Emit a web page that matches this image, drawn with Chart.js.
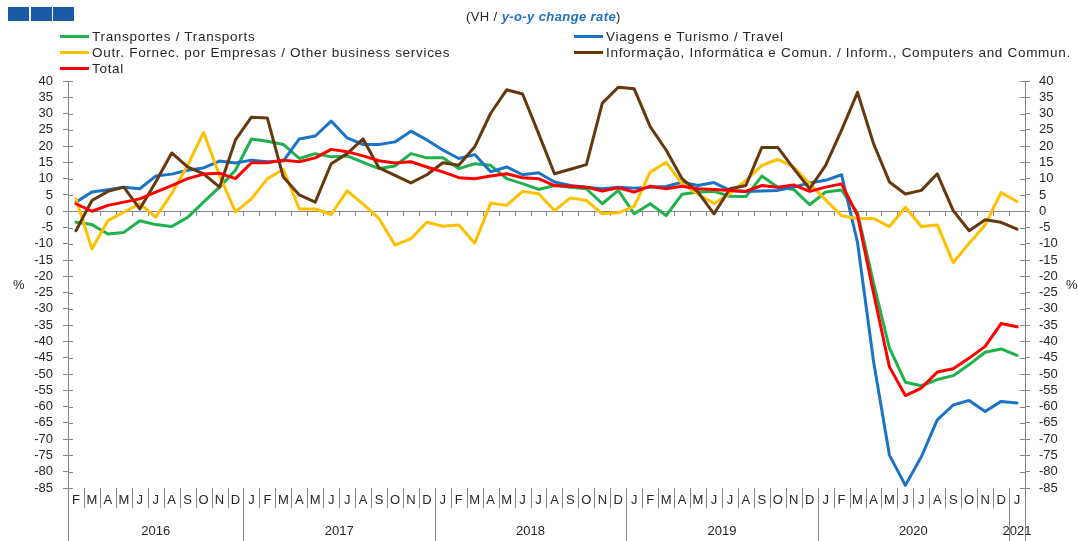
<!DOCTYPE html>
<html>
<head>
<meta charset="utf-8">
<script src="https://cdn.jsdelivr.net/npm/chart.js@4.4.0/dist/chart.umd.min.js"></script>
<style>
  body { margin: 0; background: #fff; font-family: "Liberation Sans", Arial, sans-serif; }
  #wrap { position: relative; width: 1078px; height: 541px; overflow: hidden; }
  #chart { position: absolute; left: 0; top: 0; }
  .sq { position: absolute; top: 7px; width: 21px; height: 14px; background: #1a5aa6; }
  #title { position: absolute; left: 466px; top: 9px; font-size: 13px; letter-spacing: 0.4px; color: #262626; white-space: nowrap; }
  #title i { color: #1f6fc5; font-weight: bold; }
  .leg { position: absolute; font-size: 13.5px; letter-spacing: 0.7px; color: #262626; white-space: nowrap; line-height: 16px; }
  .leg span { display: inline-block; width: 29px; height: 3px; vertical-align: middle; margin-right: 3px; position: relative; top: -1px; }
  .pct { position: absolute; top: 277px; font-size: 13px; color: #262626; }
</style>
</head>
<body>
<div id="wrap">
  <canvas id="chart" width="1078" height="541"></canvas>
  <div class="sq" style="left:8px"></div>
  <div class="sq" style="left:31px"></div>
  <div class="sq" style="left:53px"></div>
  <div id="title">(VH / <i>y-o-y change rate</i>)</div>
  <div id="legend"></div>
  <div class="pct" style="left:13px">%</div>
  <div class="pct" style="left:1066px">%</div>
</div>
<script>
// ---- data (Feb 2016 .. Jan 2021) ----
const months = ['F','M','A','M','J','J','A','S','O','N','D',
  'J','F','M','A','M','J','J','A','S','O','N','D',
  'J','F','M','A','M','J','J','A','S','O','N','D',
  'J','F','M','A','M','J','J','A','S','O','N','D',
  'J','F','M','A','M','J','J','A','S','O','N','D',
  'J'];
const years = ['2016', '2017', '2018', '2019', '2020', '2021'];
const yearStart = [0, 11, 23, 35, 47, 59];

const transportes = [-3.4, -4.1, -7, -6.5, -2.9, -4.1, -4.7, -1.9, 2.8, 7.4, 12.6,
  22.2, 21.5, 20.5, 16.2, 17.7, 16.7, 17, 15, 13.1, 13.9, 17.7, 16.4,
  16.4, 13.1, 14.6, 14.1, 10, 8.5, 6.7, 7.9, 7.4, 6.9, 2.3, 6.4,
  -0.8, 2.3, -1.3, 5.2, 5.9, 6.1, 4.6, 4.5, 10.8, 7.4, 6.7, 2,
  5.9, 6.5, -0.5, -22, -42, -52.5, -53.6, -51.7, -50.5, -47.1, -43.3, -42.3,
  -44.3];
const viagens = [2.8, 5.9, 6.6, 7.4, 6.9, 10.8, 11.4, 12.6, 13.3, 15.4, 14.8,
  15.7, 15.2, 15.4, 22.2, 23.1, 27.7, 22.5, 20.5, 20.5, 21.3, 24.6, 21.9,
  18.8, 16.2, 17.4, 12.1, 13.6, 11.2, 11.8, 9, 7.9, 7.4, 6.9, 7.4,
  7.1, 7.4, 7.6, 8.9, 7.9, 8.8, 6.4, 6.1, 6.2, 6.4, 7.4, 8.7,
  9.5, 11.2, -9.6, -46, -74.9, -84.2, -75.4, -64.1, -59.5, -58.1, -61.5, -58.4,
  -58.9];
const outrServicos = [3.8, -11.6, -2.9, -0.3, 2.3, -1.8, 5.4, 14.1, 24.2, 11, -0.2,
  3.8, 10, 12.9, 0.7, 0.7, -1, 6.3, 2.2, -2.2, -10.4, -8.4, -3.4,
  -4.6, -4.2, -9.8, 2.5, 1.8, 6.1, 5.4, 0.2, 4.1, 3.3, -0.8, -0.5,
  1.5, 12, 15, 8.5, 5.2, 2.4, 5.4, 9.5, 14.1, 15.9, 13.6, 8.5,
  3.5, -1.4, -2.2, -2.2, -4.7, 1.2, -4.7, -4.2, -15.8, -9.8, -4.2, 5.7,
  3];
const informacao = [-6, 3.3, 6.1, 7.4, 0.7, 9, 17.9, 13.6, 11.5, 7.4, 21.9,
  28.9, 28.6, 10.5, 5, 2.8, 14.6, 17.7, 22.2, 13.3, 11, 8.7, 11.2,
  14.9, 14.1, 19.8, 30.1, 37.3, 36, 23.9, 11.5, 12.9, 14.3, 33.2, 38.1,
  37.6, 26, 18.8, 10, 5.9, -0.8, 6.9, 7.9, 19.6, 19.6, 13.1, 6.9,
  14.1, 24.9, 36.5, 20.8, 9, 5.3, 6.4, 11.5, 0.2, -6, -2.6, -3.4,
  -5.5];
const total = [2.3, 0, 1.8, 2.8, 3.8, 5.9, 7.9, 10, 11.4, 11.7, 10,
  14.9, 14.9, 15.7, 15.2, 16.4, 19, 18.3, 17, 15.5, 14.8, 15.2, 13.6,
  12.1, 10.3, 10, 10.8, 11.5, 10.3, 10, 7.9, 7.7, 7.4, 6.2, 7.2,
  5.9, 7.7, 6.9, 7.7, 6.9, 6.7, 6.4, 6.1, 7.9, 7.4, 8.1, 6.1,
  7.4, 8.4, -1.3, -25, -47.8, -56.6, -54.3, -49.4, -48.4, -45.1, -41.5, -34.5,
  -35.5];

const series = [
  { label: 'Transportes / Transports', data: transportes, color: '#1fb14c', order: 4, lx: 60, ly: 29 },
  { label: 'Viagens e Turismo / Travel', data: viagens, color: '#1a73c6', order: 3, lx: 574, ly: 29 },
  { label: 'Outr. Fornec. por Empresas / Other business services', data: outrServicos, color: '#ffc000', order: 2, lx: 60, ly: 45 },
  { label: 'Informação, Informática e Comun. / Inform., Computers and Commun.', data: informacao, color: '#66380e', order: 1, lx: 574, ly: 45 },
  { label: 'Total', data: total, color: '#ff0000', order: 0, lx: 60, ly: 61 }
];

// legend (html, two columns like the original)
const legendBox = document.getElementById('legend');
series.forEach(s => {
  const d = document.createElement('div');
  d.className = 'leg';
  d.style.left = s.lx + 'px';
  d.style.top = s.ly + 'px';
  d.innerHTML = '<span style="background:' + s.color + '"></span>' + s.label;
  legendBox.appendChild(d);
});

const TXT = '#262626';
const AXIS = '#868686';
const FONT = "'Liberation Sans', Arial, sans-serif";

// axis decorations: zero line, month/year labels under the plot
const axisDecor = {
  id: 'axisDecor',
  beforeDatasetsDraw(chart) {
    const { ctx, chartArea: a, scales: { x, y } } = chart;
    const y0 = y.getPixelForValue(0);
    const step = (a.right - a.left) / months.length;
    ctx.save();
    ctx.strokeStyle = AXIS;
    ctx.lineWidth = 1;
    ctx.beginPath();
    ctx.moveTo(a.left, Math.round(y0) + 0.5);
    ctx.lineTo(a.right, Math.round(y0) + 0.5);
    for (let k = 1; k < months.length; k++) {
      const xb = Math.round(x.getPixelForValue(k) - step / 2) + 0.5;
      ctx.moveTo(xb, Math.round(y0));
      ctx.lineTo(xb, Math.round(y0) + 5);
    }
    // inner half of the value ticks
    y.ticks.forEach(t => {
      const yp = Math.round(y.getPixelForValue(t.value)) + 0.5;
      ctx.moveTo(a.left, yp); ctx.lineTo(a.left + 5, yp);
      ctx.moveTo(a.right - 5, yp); ctx.lineTo(a.right, yp);
    });
    ctx.stroke();
    ctx.restore();
  },
  afterDraw(chart) {
    const { ctx, chartArea: a, scales: { x } } = chart;
    const step = (a.right - a.left) / months.length;
    const bottom = chart.height;
    const edge = k => k === 0 ? a.left : k === months.length ? a.right : x.getPixelForValue(k) - step / 2;
    ctx.save();
    ctx.strokeStyle = AXIS;
    ctx.lineWidth = 1;
    ctx.beginPath();
    for (let k = 0; k <= months.length; k++) {
      const xb = Math.round(edge(k)) + 0.5;
      const isYear = k === months.length || yearStart.includes(k);
      ctx.moveTo(xb, a.bottom);
      ctx.lineTo(xb, isYear ? bottom : a.bottom + 20);
    }
    ctx.stroke();
    ctx.fillStyle = TXT;
    ctx.font = '13px ' + FONT;
    ctx.textAlign = 'center';
    ctx.textBaseline = 'middle';
    months.forEach((m, i) => ctx.fillText(m, x.getPixelForValue(i), a.bottom + 12));
    years.forEach((yr, j) => {
      const from = yearStart[j];
      const to = j + 1 < yearStart.length ? yearStart[j + 1] : months.length;
      ctx.fillText(yr, (edge(from) + edge(to)) / 2, a.bottom + 43);
    });
    ctx.restore();
  }
};

const yCommon = {
  min: -85, max: 40,
  ticks: { stepSize: 5, autoSkip: false, color: TXT, font: { size: 13, family: FONT } },
  grid: { drawOnChartArea: false, tickLength: 5, color: AXIS },
  border: { color: AXIS, width: 1 }
};

new Chart(document.getElementById('chart'), {
  type: 'line',
  data: {
    labels: months,
    datasets: series.map(s => ({
      label: s.label,
      data: s.data,
      borderColor: s.color,
      backgroundColor: s.color,
      borderWidth: 3,
      pointRadius: 0,
      tension: 0,
      borderJoinStyle: 'round',
      borderCapStyle: 'round',
      order: s.order,
      yAxisID: 'y'
    }))
  },
  options: {
    responsive: false,
    animation: false,
    layout: { padding: { top: 81, bottom: 53, left: 0, right: 0 } },
    plugins: { legend: { display: false }, tooltip: { enabled: false } },
    scales: {
      x: { type: 'category', offset: true, display: false },
      y: Object.assign({}, yCommon, {
        position: 'left',
        ticks: Object.assign({}, yCommon.ticks, { padding: 10 }),
        afterFit: s => { s.width = 68; }
      }),
      y2: Object.assign({}, yCommon, {
        position: 'right',
        ticks: Object.assign({}, yCommon.ticks, { padding: 9 }),
        afterFit: s => { s.width = 53; }
      })
    }
  },
  plugins: [axisDecor]
});
</script>
</body>
</html>
